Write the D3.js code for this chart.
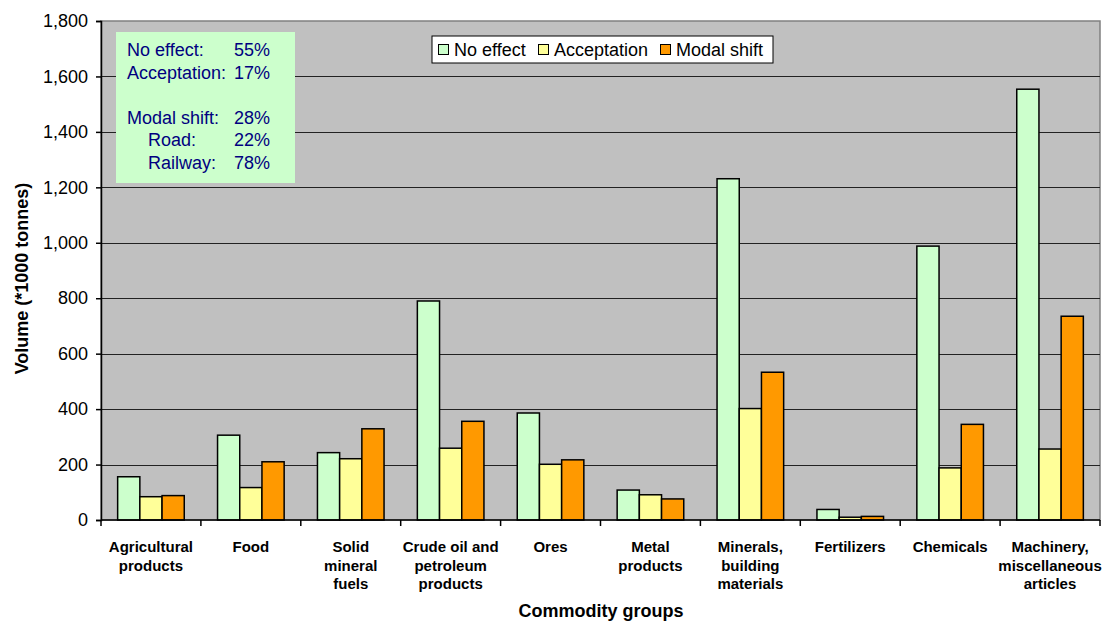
<!DOCTYPE html>
<html>
<head>
<meta charset="utf-8">
<script src="https://cdn.jsdelivr.net/npm/d3@7"></script>
<style>
  html, body { margin: 0; padding: 0; background: #fff; }
  svg { display: block; font-family: "Liberation Sans", Arial, sans-serif; }
</style>
</head>
<body>
<svg id="chart" width="1107" height="621"></svg>
<script>
const categories = [
  "Agricultural\nproducts",
  "Food",
  "Solid\nmineral\nfuels",
  "Crude oil and\npetroleum\nproducts",
  "Ores",
  "Metal\nproducts",
  "Minerals,\nbuilding\nmaterials",
  "Fertilizers",
  "Chemicals",
  "Machinery,\nmiscellaneous\narticles"
]
const seriesNames = ["No effect", "Acceptation", "Modal shift"]
const noEffect = [156, 306, 243, 790, 386, 108, 1231, 38, 988, 1554]
const acceptation = [84, 117, 221, 259, 201, 91, 402, 10, 188, 256]
const modalShift = [88, 210, 329, 356, 217, 76, 533, 13, 345, 735]
const yTicks = [0, 200, 400, 600, 800, 1000, 1200, 1400, 1600, 1800]
const summary = [
  { label: "No effect:", value: "55%", indent: false },
  { label: "Acceptation:", value: "17%", indent: false },
  null,
  { label: "Modal shift:", value: "28%", indent: false },
  { label: "Road:", value: "22%", indent: true },
  { label: "Railway:", value: "78%", indent: true }
]

const colors = ["#ccffcc", "#ffff99", "#ff9900"]
const values = [noEffect, acceptation, modalShift]
const rows = categories.map((c, i) => ({ category: c, values: values.map(s => s[i]) }))

const svg = d3.select("#chart")
const plot = { left: 101, right: 1100, top: 21, bottom: 520 }

const x0 = d3.scaleBand()
  .domain(categories)
  .range([plot.left, plot.right])
  .padding(0)

// 150% gap width: outer padding of 0.75 bar on each side
const x1 = d3.scaleBand()
  .domain(seriesNames)
  .range([0, x0.bandwidth()])
  .paddingInner(0)
  .paddingOuter(0.75)

const y = d3.scaleLinear()
  .domain([0, 1800])
  .range([plot.bottom, plot.top])

// plot background
svg.append("rect")
  .attr("x", plot.left)
  .attr("y", plot.top)
  .attr("width", plot.right - plot.left)
  .attr("height", plot.bottom - plot.top)
  .attr("fill", "#c0c0c0")
  .attr("stroke", "#808080")
  .attr("stroke-width", 1.5)

// gridlines
svg.append("g")
  .selectAll("line")
  .data(yTicks.filter(t => t > 0 && t < 1800))
  .enter()
  .append("line")
  .attr("x1", plot.left)
  .attr("x2", plot.right)
  .attr("y1", d => Math.round(y(d)) + 0.5)
  .attr("y2", d => Math.round(y(d)) + 0.5)
  .attr("stroke", "#222")
  .attr("stroke-width", 1)

// bars
const groups = svg.append("g")
  .selectAll("g")
  .data(rows)
  .enter()
  .append("g")
  .attr("transform", d => `translate(${x0(d.category)},0)`)

groups.selectAll("rect")
  .data(d => d.values.map((v, i) => ({ name: seriesNames[i], value: v, color: colors[i] })))
  .enter()
  .append("rect")
  .attr("x", d => x1(d.name))
  .attr("width", x1.bandwidth())
  .attr("y", d => y(d.value))
  .attr("height", d => y(0) - y(d.value))
  .attr("fill", d => d.color)
  .attr("stroke", "#000")
  .attr("stroke-width", 1.5)

// y axis
const yAxis = svg.append("g")
  .attr("transform", `translate(${plot.left},0)`)
  .call(d3.axisLeft(y).tickValues(yTicks).tickSize(5).tickPadding(8).tickFormat(d3.format(",")))
yAxis.select(".domain").attr("stroke", "#000").attr("stroke-width", 1.5)
yAxis.selectAll(".tick line").attr("stroke", "#000").attr("stroke-width", 1.5)
yAxis.selectAll(".tick text")
  .attr("font-family", "Liberation Sans, Arial, sans-serif")
  .attr("font-size", "18px")
  .attr("fill", "#000")

// x axis, ticks at category boundaries
const xAxisG = svg.append("g")
svg.append("line")
  .attr("x1", plot.left)
  .attr("x2", plot.right)
  .attr("y1", plot.bottom)
  .attr("y2", plot.bottom)
  .attr("stroke", "#000")
  .attr("stroke-width", 1.5)
xAxisG.selectAll("line")
  .data(categories.map(c => x0(c)).concat([plot.right]))
  .enter()
  .append("line")
  .attr("x1", d => d)
  .attr("x2", d => d)
  .attr("y1", plot.bottom)
  .attr("y2", plot.bottom + 6)
  .attr("stroke", "#000")
  .attr("stroke-width", 1.5)

const xLabels = svg.append("g")
  .selectAll("text")
  .data(categories)
  .enter()
  .append("text")
  .attr("x", d => x0(d) + x0.bandwidth() / 2)
  .attr("y", 552)
  .attr("text-anchor", "middle")
  .attr("font-size", "15px")
  .attr("font-weight", "bold")
  .attr("fill", "#000")
xLabels.selectAll("tspan")
  .data(d => d.split("\n"))
  .enter()
  .append("tspan")
  .attr("x", function () { return d3.select(this.parentNode).attr("x") })
  .attr("dy", (d, i) => i === 0 ? 0 : 18.5)
  .text(d => d)

// axis titles
svg.append("text")
  .attr("x", 601)
  .attr("y", 617)
  .attr("text-anchor", "middle")
  .attr("font-size", "18px")
  .attr("font-weight", "bold")
  .text("Commodity groups")

svg.append("text")
  .attr("transform", `translate(28,${(plot.top + plot.bottom) / 2 + 8}) rotate(-90)`)
  .attr("text-anchor", "middle")
  .attr("font-size", "18px")
  .attr("font-weight", "bold")
  .text("Volume (*1000 tonnes)")

// legend
const legend = svg.append("g").attr("transform", "translate(432,36)")
legend.append("rect")
  .attr("width", 341)
  .attr("height", 27)
  .attr("fill", "#fff")
  .attr("stroke", "#000")
  .attr("stroke-width", 1)
const legendX = [6, 106, 228]
const legendItems = legend.selectAll("g.item")
  .data(seriesNames)
  .enter()
  .append("g")
  .attr("class", "item")
  .attr("transform", (d, i) => `translate(${legendX[i]},0)`)
legendItems.append("rect")
  .attr("x", 0.5)
  .attr("y", 8.5)
  .attr("width", 10)
  .attr("height", 10)
  .attr("fill", (d, i) => colors[i])
  .attr("stroke", "#000")
  .attr("stroke-width", 1)
legendItems.append("text")
  .attr("x", 16)
  .attr("y", 20)
  .attr("font-size", "18px")
  .attr("fill", "#000")
  .text(d => d)

// summary box
const box = svg.append("g").attr("transform", "translate(116,32)")
box.append("rect")
  .attr("width", 179)
  .attr("height", 151)
  .attr("fill", "#ccffcc")
const boxLines = box.selectAll("g.line")
  .data(summary)
  .enter()
  .append("g")
  .attr("class", "line")
  .attr("transform", (d, i) => `translate(0,${24 + i * 22.6})`)
  .filter(d => d !== null)
boxLines.append("text")
  .attr("x", d => d.indent ? 32 : 11)
  .attr("font-size", "18px")
  .attr("fill", "#000080")
  .text(d => d.label)
boxLines.append("text")
  .attr("x", 154)
  .attr("text-anchor", "end")
  .attr("font-size", "18px")
  .attr("fill", "#000080")
  .text(d => d.value)
</script>
</body>
</html>
